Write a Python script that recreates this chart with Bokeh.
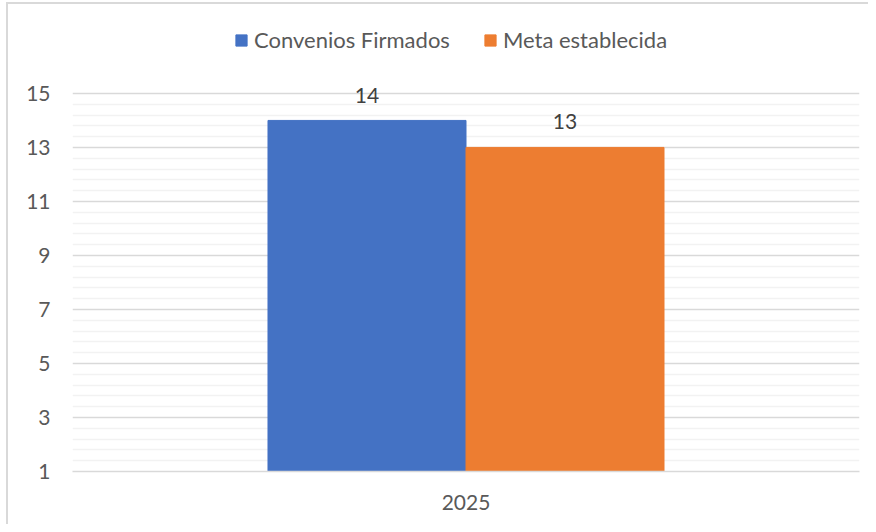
from bokeh.plotting import figure
from bokeh.models import FactorRange, ColumnDataSource, FixedTicker, Legend, LegendItem
from bokeh.transform import dodge
from bokeh.core.properties import value
from bokeh.embed import file_html
from bokeh.resources import INLINE

categories = ["2025"]
series_names = ["Convenios Firmados", "Meta establecida"]
convenios = [14]
meta = [13]
colors = ["#4472C4", "#ED7D31"]
y_ticks = [1, 3, 5, 7, 9, 11, 13, 15]
y_minor = [1.4, 1.8, 2.2, 2.6, 3.4, 3.8, 4.2, 4.6, 5.4, 5.8, 6.2, 6.6, 7.4, 7.8, 8.2, 8.6,
           9.4, 9.8, 10.2, 10.6, 11.4, 11.8, 12.2, 12.6, 13.4, 13.8, 14.2, 14.6]

FONT = "Lato"

src = ColumnDataSource(dict(cat=categories, conv=convenios, meta=meta,
                            conv_lbl=[str(v) for v in convenios],
                            meta_lbl=[str(v) for v in meta]))

p = figure(x_range=FactorRange(*categories), y_range=(1, 17.7),
           frame_width=787, frame_height=451, output_backend="svg", toolbar_location=None,
           min_border_left=64, min_border_right=9, min_border_top=16, min_border_bottom=53)
p.outline_line_color = None
p.border_fill_color = "white"
p.styles = {"border-left": "2px solid #d9d9d9", "border-top": "2px solid #d9d9d9",
            "border-right": "0px none white", "border-bottom": "0px none white",
            "margin-left": "6px", "margin-top": "2px", "background-color": "white"}

bw = 0.2516
r1 = p.vbar(x=dodge("cat", -bw / 2, range=p.x_range), top="conv", bottom=1, width=bw,
            color=colors[0], source=src)
r2 = p.vbar(x=dodge("cat", bw / 2, range=p.x_range), top="meta", bottom=1, width=bw,
            color=colors[1], source=src)

p.text(x=dodge("cat", -bw / 2, range=p.x_range), y="conv", text="conv_lbl", source=src,
       text_align="center", text_baseline="middle", y_offset=-25,
       text_font=value(FONT), text_font_size="21px", text_color="#404040")
p.text(x=dodge("cat", bw / 2, range=p.x_range), y="meta", text="meta_lbl", source=src,
       text_align="center", text_baseline="middle", y_offset=-26,
       text_font=value(FONT), text_font_size="21px", text_color="#404040")

p.yaxis.ticker = FixedTicker(ticks=y_ticks, minor_ticks=y_minor)
p.yaxis.axis_line_color = None
p.yaxis.major_tick_line_color = None
p.yaxis.minor_tick_line_color = None
p.yaxis.major_label_standoff = 16
p.yaxis.major_label_text_font = FONT
p.yaxis.major_label_text_font_size = "21px"
p.yaxis.major_label_text_color = "#595959"

p.xaxis.axis_line_color = "#d9d9d9"
p.xaxis.axis_line_width = 1.5
p.xaxis.major_tick_line_color = None
p.xaxis.minor_tick_line_color = None
p.xaxis.major_label_standoff = 17
p.xaxis.major_label_text_font = FONT
p.xaxis.major_label_text_font_size = "21px"
p.xaxis.major_label_text_color = "#595959"

p.xgrid.grid_line_color = None
p.ygrid.grid_line_color = "#d9d9d9"
p.ygrid.grid_line_width = 1.5
p.ygrid.minor_grid_line_color = "#f2f2f2"
p.ygrid.minor_grid_line_width = 1.5

legend = Legend(items=[LegendItem(label=series_names[0], renderers=[r1]),
                       LegendItem(label=series_names[1], renderers=[r2])],
                orientation="horizontal", location=(162, 418),
                glyph_width=14, glyph_height=14, label_standoff=6, spacing=33,
                label_text_font=FONT, label_text_font_size="22px",
                label_text_color="#595959", border_line_color=None,
                background_fill_alpha=0, padding=0, margin=0)
p.add_layout(legend, "center")

open("out.html", "w").write(file_html(p, INLINE))
